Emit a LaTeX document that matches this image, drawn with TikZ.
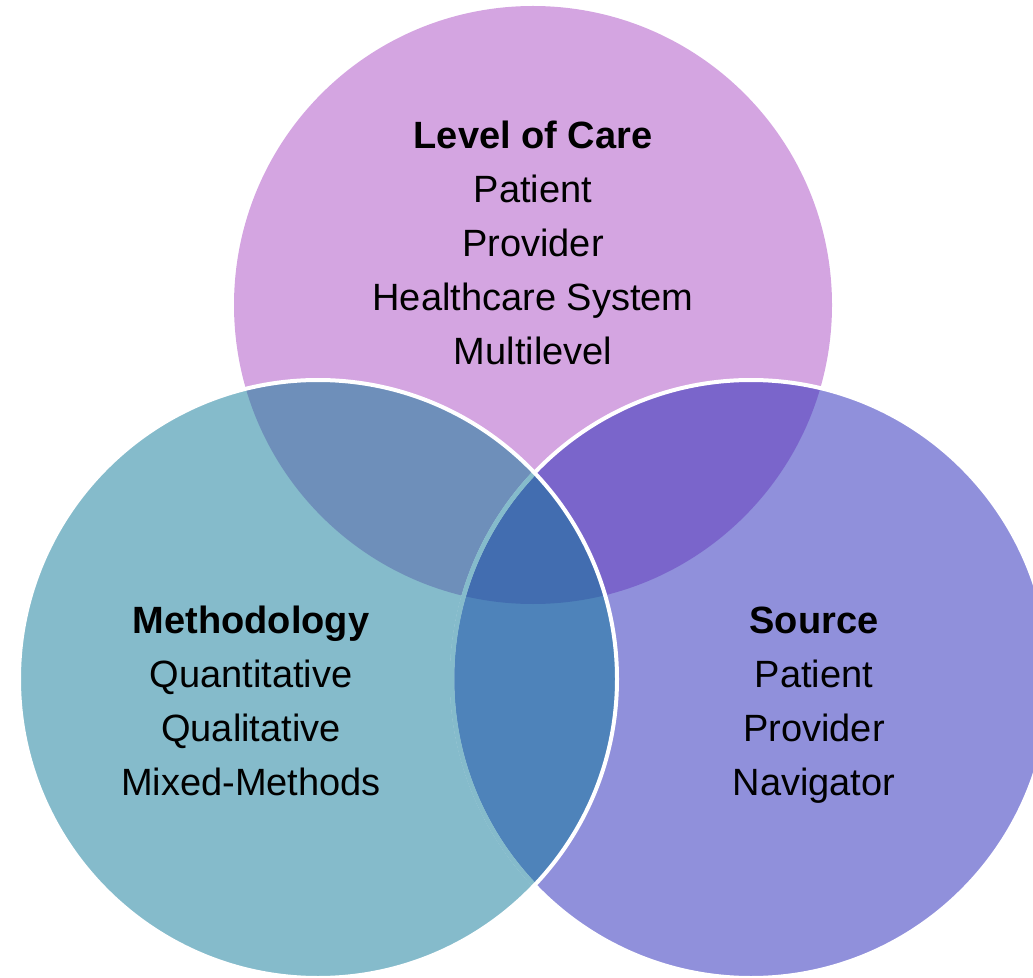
\documentclass[tikz,border=0pt]{standalone}
\usepackage{fontspec}
\setmainfont{Liberation Sans}
\usepackage{tikz}
\definecolor{careC}{HTML}{D4A5E1}
\definecolor{methC}{HTML}{85BBCB}
\definecolor{srcC}{HTML}{9090DB}
\definecolor{careMethC}{HTML}{6E8FBA}
\definecolor{careSrcC}{HTML}{7A65CB}
\definecolor{methSrcC}{HTML}{4E83BA}
\definecolor{allC}{HTML}{426DB0}
\tikzstyle{vtext}=[align=center,text=black,font=\fontsize{19}{27}\selectfont]
\tikzstyle{rim}=[draw=white,line width=2pt]
\tikzstyle{faintrim}=[draw=methC,line width=2.3pt]
\newcommand{\vrad}{149.5pt}

\begin{document}
\begin{tikzpicture}[x=0.5pt,y=-0.5pt]
  \useasboundingbox (0,0) rectangle (1033,978);
  \coordinate (C) at (533,305);
  \coordinate (M) at (318,679);
  \coordinate (S) at (751,679);

  % the three sets
  \fill[careC] (C) circle (\vrad);
  \fill[methC] (M) circle (\vrad);
  \fill[srcC] (S) circle (\vrad);

  % overlaps
  \begin{scope}
    \clip (C) circle (\vrad);
    \fill[careMethC] (M) circle (\vrad);
    \fill[careSrcC] (S) circle (\vrad);
  \end{scope}
  \begin{scope}
    \clip (M) circle (\vrad);
    \fill[methSrcC] (S) circle (\vrad);
    \clip (C) circle (\vrad);
    \fill[allC] (S) circle (\vrad);
  \end{scope}

  % outlines
  \draw[rim] (S) circle (\vrad);
  \begin{scope}
    \clip (M) circle (\vrad);
    \draw[faintrim] (S) circle (\vrad);
  \end{scope}
  \draw[rim] (M) circle (\vrad);

  \node[vtext] (care) at (533,243) {\textbf{Level of Care}\\Patient\\Provider\\Healthcare System\\Multilevel};
  \node[vtext] (meth) at (251,701) {\textbf{Methodology}\\Quantitative\\Qualitative\\Mixed-Methods};
  \node[vtext] (src) at (814,705) {\textbf{Source}\\Patient\\Provider\\Navigator};
\end{tikzpicture}
\end{document}
